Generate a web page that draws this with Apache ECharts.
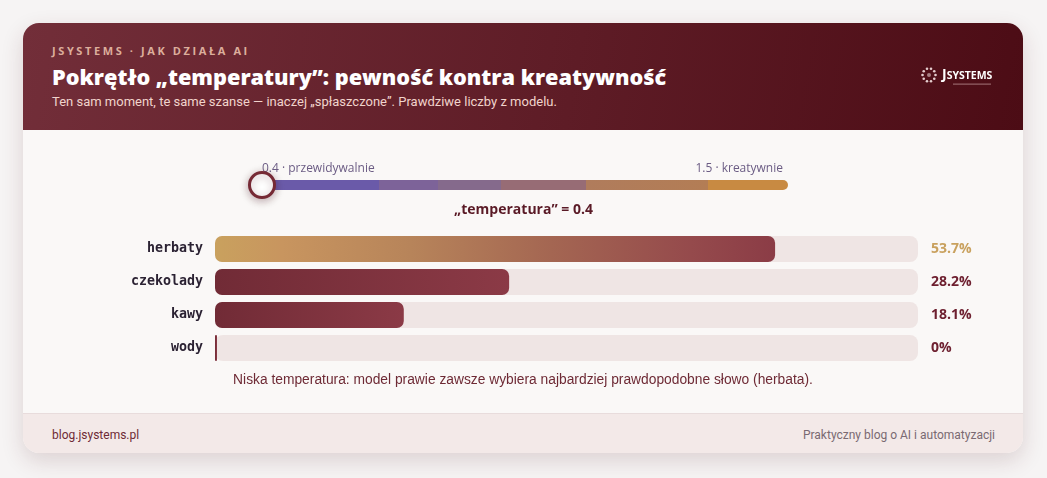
<!DOCTYPE html>
<html><head><meta charset="utf-8">
<script src="https://cdn.jsdelivr.net/npm/echarts@6/dist/echarts.min.js"></script>
<style>
html,body{margin:0;padding:0;width:1047px;height:478px;background:#f6f4f4;overflow:hidden;font-family:Roboto,"Noto Sans",sans-serif}
.card{position:absolute;left:23px;top:23px;width:1000px;height:430px;border-radius:16px;overflow:hidden;background:#faf8f7;box-shadow:0 8px 22px rgba(90,30,40,0.16)}
.header{position:absolute;left:0;top:0;width:1000px;height:107px;background:linear-gradient(100deg,#722e39 0%,#5e1c26 55%,#4c0c15 100%)}
.kicker{position:absolute;left:29px;top:20px;font:700 11px "Open Sans",sans-serif;letter-spacing:2.6px;color:#dcae9c;white-space:nowrap}
.title{position:absolute;left:29px;top:39px;font:800 21.7px "Open Sans",sans-serif;color:#fff;white-space:nowrap}
.sub{position:absolute;left:29px;top:71px;font:400 13px Roboto,sans-serif;color:#f1d4cc;white-space:nowrap}
.footer{position:absolute;left:0;top:390px;width:1000px;height:40px;background:#f3e9e8;border-top:1px solid #e8dcdc}
.fl{position:absolute;left:29px;top:14px;font:400 12px Roboto,sans-serif;color:#6e2a35;white-space:nowrap}
.fr{position:absolute;right:28px;top:14px;font:400 12px Roboto,sans-serif;color:#7a6a72;white-space:nowrap}
#chart{position:absolute;left:0;top:0;width:1047px;height:478px}
</style></head>
<body>
<div class="card">
  <div class="header">
    <div class="kicker">JSYSTEMS · JAK DZIAŁA AI</div>
    <div class="title">Pokrętło „temperatury”: pewność kontra kreatywność</div>
    <div class="sub">Ten sam moment, te same szanse — inaczej „spłaszczone”. Prawdziwe liczby z modelu.</div>
  </div>
  <div class="footer">
    <div class="fl">blog.jsystems.pl</div>
    <div class="fr">Praktyczny blog o AI i automatyzacji</div>
  </div>
</div>
<div id="chart"></div>
<script>
// ---- data ----
const categories = ['herbaty', 'czekolady', 'kawy', 'wody'];
const probabilities = [53.7, 28.2, 18.1, 0];
const temperature = 0.4;
const temperatureRange = [0.4, 1.5];
const rangeLabels = ['0.4 · przewidywalnie', '1.5 · kreatywnie'];
const caption = 'Niska temperatura: model prawie zawsze wybiera najbardziej prawdopodobne słowo (herbata).';

const chart = echarts.init(document.getElementById('chart'), null, {renderer: 'canvas'});
const G = echarts.graphic.LinearGradient;

const topGrad = new G(0, 0, 1, 0, [
  {offset: 0, color: '#c9a15e'}, {offset: 0.12, color: '#c8955f'},
  {offset: 0.35, color: '#b7845a'}, {offset: 0.6, color: '#a46652'},
  {offset: 0.85, color: '#954a4c'}, {offset: 1, color: '#8b3c46'}]);
const restGrad = () => new G(0, 0, 1, 0, [
  {offset: 0, color: '#712b36'}, {offset: 1, color: '#8b3a46'}]);

const sliderGrad = new G(0, 0, 1, 0, [
  {offset: 0, color: '#6a5aa9'}, {offset: 0.23, color: '#6a5aa9'},
  {offset: 0.2301, color: '#7d6399'}, {offset: 0.34, color: '#7d6399'},
  {offset: 0.3401, color: '#856a8c'}, {offset: 0.46, color: '#856a8c'},
  {offset: 0.4601, color: '#976c75'}, {offset: 0.62, color: '#976c75'},
  {offset: 0.6201, color: '#b07c5c'}, {offset: 0.85, color: '#b37d55'},
  {offset: 0.8501, color: '#c88a42'}, {offset: 1, color: '#c88a42'}]);

const valueColors = ['#c9a15e', '#6e2030', '#6e2030', '#6e2030'];

// logo dots
const logoDots = [];
for (let i = 0; i < 10; i++) {
  const a = i / 10 * Math.PI * 2;
  logoDots.push({type: 'circle', shape: {cx: 929 + Math.cos(a) * 6.5, cy: 75 + Math.sin(a) * 6.5, r: 1.3},
    style: {fill: 'rgba(255,240,240,0.85)'}, silent: true});
}
logoDots.push({type: 'circle', shape: {cx: 929, cy: 75, r: 2}, style: {fill: 'rgba(255,240,240,0.5)'}, silent: true});

const richVal = {};
valueColors.forEach((c, i) => { richVal['c' + i] = {color: c, fontWeight: 'bold', fontSize: 14, fontFamily: 'Open Sans'}; });

chart.setOption({
  backgroundColor: 'transparent',
  animation: false,
  grid: [
    {left: 215, right: 129, top: 232.5, height: 132, containLabel: false},
    {left: 262, right: 264, top: 180, height: 10}
  ],
  xAxis: [
    {gridIndex: 0, type: 'value', min: 0, max: 67.4, show: false},
    {gridIndex: 1, type: 'value', min: temperatureRange[0], max: temperatureRange[1], position: 'top',
      axisLine: {show: false}, axisTick: {show: false}, splitLine: {show: false},
      axisLabel: {customValues: temperatureRange, alignMinLabel: 'left', alignMaxLabel: 'right',
        margin: 5, fontSize: 12, color: '#6b5c84', fontFamily: 'Open Sans', fontWeight: 500,
        formatter: (v) => rangeLabels[temperatureRange.indexOf(v)] || ''}}
  ],
  yAxis: [
    {gridIndex: 0, type: 'category', data: categories, inverse: true,
      axisLine: {show: false}, axisTick: {show: false},
      axisLabel: {margin: 12, fontFamily: 'DejaVu Sans Mono', fontWeight: 'bold', fontSize: 13.3, color: '#2b2233'}},
    {gridIndex: 0, type: 'category', data: categories, inverse: true, position: 'right',
      axisLine: {show: false}, axisTick: {show: false},
      axisLabel: {margin: 13, align: 'left', fontFamily: 'Open Sans', fontWeight: 'bold', fontSize: 14,
        formatter: (v, i) => '{c' + i + '|' + probabilities[i] + '%}', rich: richVal}},
    {gridIndex: 1, type: 'value', min: -1, max: 1, show: false}
  ],
  series: [
    {type: 'bar', xAxisIndex: 0, yAxisIndex: 0, barWidth: 26, barMinHeight: 2,
      showBackground: true, backgroundStyle: {color: '#efe5e4', borderRadius: 8},
      data: probabilities.map((v, i) => ({value: v, itemStyle: {color: i === 0 ? topGrad : restGrad(), borderRadius: 7}})),
      silent: true},
    {type: 'line', xAxisIndex: 1, yAxisIndex: 2, data: [[temperatureRange[0], 0], [temperatureRange[1], 0]],
      symbol: 'none', silent: true, z: 2, lineStyle: {width: 10, cap: 'round', color: sliderGrad}},
    {type: 'scatter', xAxisIndex: 1, yAxisIndex: 2, data: [[temperature, 0]], symbolSize: 25, silent: true,
      z: 10, clip: false,
      itemStyle: {color: '#ffffff', borderColor: '#762a35', borderWidth: 3, opacity: 1,
        shadowBlur: 8, shadowColor: 'rgba(60,10,20,0.3)', shadowOffsetY: 2}}
  ],
  graphic: [
    {type: 'text', left: 'center', top: 203, style: {text: '„temperatura” = ' + temperature,
      font: 'bold 14px "Open Sans"', fill: '#5a1a26'}, silent: true},
    {type: 'text', x: 523, y: 380, style: {text: caption, font: '13.8px "Liberation Sans"', fill: '#6e2a35',
      align: 'center', verticalAlign: 'middle'}, silent: true},
    ...logoDots,
    {type: 'text', x: 942, y: 75, style: {text: '{j|J}{s|SYSTEMS}', verticalAlign: 'middle',
      rich: {j: {font: 'bold 14px "Open Sans"', fill: '#ffffff', verticalAlign: 'bottom'},
             s: {font: 'bold 10.5px "Open Sans"', fill: '#ffffff', verticalAlign: 'bottom'}}}, silent: true},
    {type: 'rect', shape: {x: 953, y: 83.5, width: 38, height: 1.2}, style: {fill: 'rgba(230,200,200,0.45)'}, silent: true}
  ]
});
</script>
</body></html>
